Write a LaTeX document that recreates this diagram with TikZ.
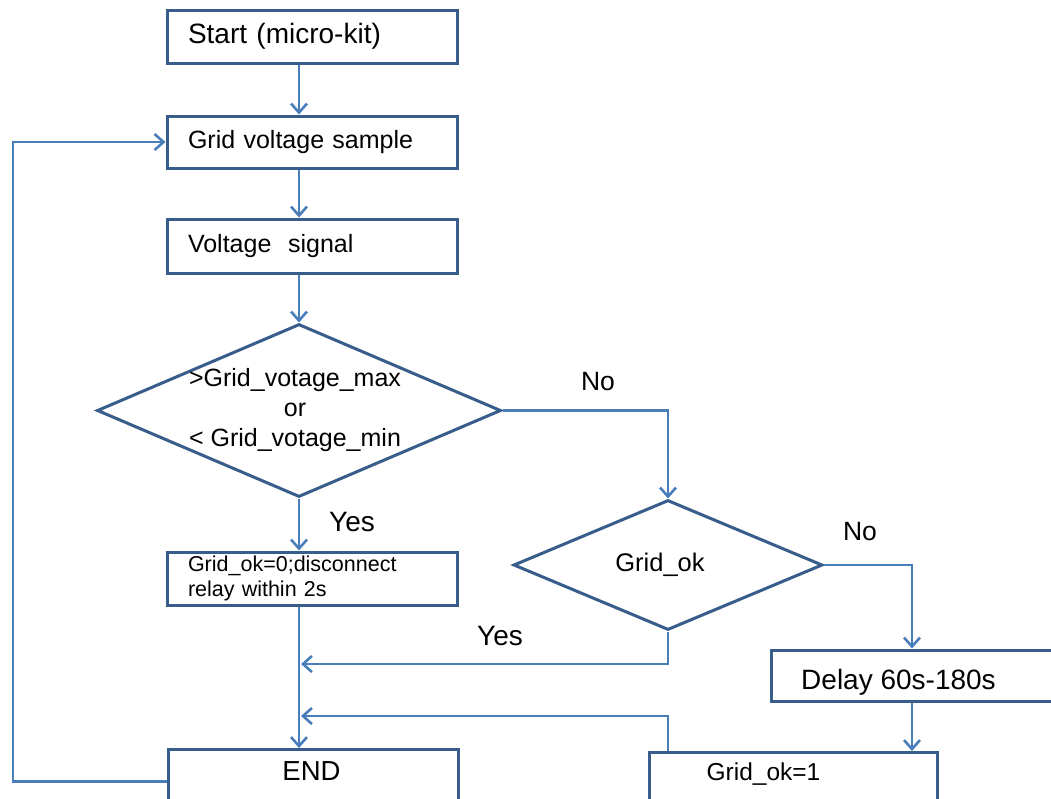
\documentclass[tikz,border=0pt]{standalone}
\usepackage{fontspec}
\setmainfont{Liberation Sans}
\usetikzlibrary{shapes.geometric,arrows.meta}
\definecolor{boxc}{RGB}{56,93,138}
\definecolor{linec}{RGB}{74,126,187}
\begin{document}
\begin{tikzpicture}[x=1pt,y=-1pt,
  box/.style={draw=boxc, line width=3pt, rectangle, text width=248pt, align=left, inner xsep=21pt, inner ysep=0pt},
  frame/.style={draw=boxc, line width=3pt, rectangle, inner sep=0pt},
  dia/.style={draw=boxc, line width=3pt, diamond, inner sep=0pt},
  arr/.style={draw=linec, line width=2.6pt, -{Straight Barb[length=9pt,width=16pt]}},
  lbl/.style={font=\fontsize{26.5}{30}\selectfont, inner sep=0pt},
  lbly/.style={font=\fontsize{28}{30}\selectfont, inner sep=0pt},
  f25/.style={font=\fontsize{25}{30}\selectfont}]
\useasboundingbox (0,0) rectangle (1051,798);
\fill[white] (0,0) rectangle (1051,798);
\clip (0,0) rectangle (1051,798);

% boxes
\node[box, minimum height=53pt, font=\fontsize{28}{32}\selectfont] (start) at (312,36.5) {Start (micro-kit)};
\node[box, minimum height=52pt, f25] (gvs) at (312,142) {Grid voltage sample};
\node[box, minimum height=54pt, f25] (vs) at (312,246) {Voltage\ \ signal};
\node[dia, minimum width=404pt, minimum height=173pt,
  label={[f25, align=center, inner sep=0pt, xshift=-4pt]center:{>Grid\_votage\_max\\or\\< Grid\_votage\_min}}] (d1) at (299,410.5) {};
\node[box, minimum height=53pt, font=\fontsize{21.5}{25}\selectfont] (ok0) at (312,578.5) {Grid\_ok=0;disconnect\\relay within 2s};
\node[dia, minimum width=309pt, minimum height=130pt,
  label={[font=\fontsize{25.5}{30}\selectfont, inner sep=0pt, xshift=-8pt]center:Grid\_ok}] (d2) at (668,565) {};
\node[frame, anchor=north west, minimum width=320pt, minimum height=51pt,
  label={[font=\fontsize{28}{32}\selectfont, inner sep=0pt, xshift=-33pt, yshift=-7pt]center:Delay 60s-180s}] (delay) at (770,648.5) {};
\node[frame, anchor=north west, minimum width=290pt, minimum height=64pt,
  label={[font=\fontsize{27.5}{30}\selectfont, inner sep=0pt, xshift=-2pt, yshift=10pt]center:END}] (endb) at (167,748) {};
\node[frame, anchor=north west, minimum width=288pt, minimum height=60pt,
  label={[font=\fontsize{24.5}{30}\selectfont, inner sep=0pt, xshift=-30pt, yshift=8pt]center:Grid\_ok=1}] (ok1) at (648,751) {};

% branch labels
\node[lbl] (no1) at (598,382) {No};
\node[lbl] (no2) at (860,532) {No};
\node[lbly] (yes1) at (352,522) {Yes};
\node[lbly] (yes2) at (500,636) {Yes};

% helper coordinates
\coordinate (colR) at (912,0);
\coordinate (loopx) at (13,0);
\coordinate (j1) at (301,664);
\coordinate (j2) at (301,716);

% connectors
\draw[arr] (start.south -| d1.north) -- (gvs.north -| d1.north);
\draw[arr] (gvs.south -| d1.north) -- (vs.north -| d1.north);
\draw[arr] (vs.south -| d1.north) -- (d1.north);
\draw[arr] (d1.east) -| (d2.north);
\draw[arr] (d1.south) -- (ok0.north -| d1.south);
\draw[arr] (ok0.south -| d1.south) -- (endb.north -| d1.south);
\draw[arr] (d2.east) -| (colR |- delay.north);
\draw[arr] (colR |- delay.south) -- (colR |- ok1.north);
\draw[arr] (d2.south) |- (j1);
\draw[arr] (ok1.north -| d2.south) |- (j2);
\draw[arr] (endb.west) -- (endb.west -| loopx) |- (gvs.west);
\end{tikzpicture}
\end{document}
